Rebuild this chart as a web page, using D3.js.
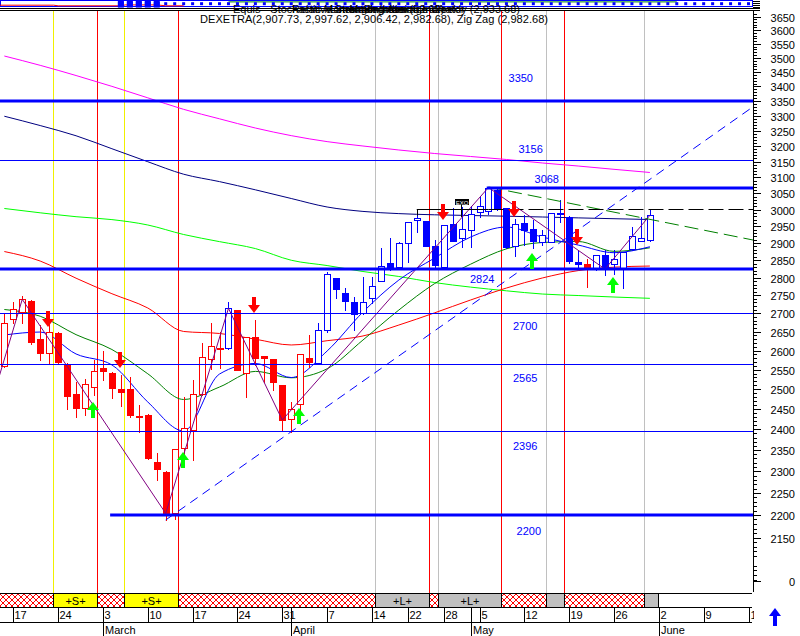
<!DOCTYPE html>
<html><head><meta charset="utf-8">
<script src="https://cdn.jsdelivr.net/npm/d3@7"></script>
<style>
html,body{margin:0;padding:0;background:#fff;}
svg{display:block;font-family:"Liberation Sans",Arial,sans-serif;}
</style></head><body>
<svg id="chart" width="800" height="636"></svg>
<script>
// ---------- DATA ----------
const dates = ["Feb14","Feb17","Feb18","Feb19","Feb20","Feb21","Feb24","Feb25","Feb26","Feb27","Feb28",
"Mar3","Mar4","Mar5","Mar6","Mar7","Mar10","Mar11","Mar12","Mar13","Mar14","Mar17","Mar18","Mar19","Mar20","Mar21",
"Mar24","Mar25","Mar26","Mar27","Mar28","Mar31","Apr1","Apr2","Apr3","Apr4","Apr7","Apr8","Apr9","Apr10","Apr11",
"Apr14","Apr15","Apr16","Apr17","Apr22","Apr23","Apr24","Apr25","Apr28","Apr29","Apr30","May2","May5","May6","May7",
"May8","May9","May12","May13","May14","May15","May16","May19","May20","May21","May22","May23","May26","May27","May28","May29","May30"];
const opens = [2559.5,2683.7,2704.5,2734.1,2629.8,2592.7,2647.4,2563.9,2487.7,2451.9,2506.2,
2553.5,2542.1,2499.6,2501.1,2432.7,2435.2,2321.7,2298.2,2203.7,2354.1,2398.4,2487.0,2577.0,2607.5,2605.9,
2709.2,2540.5,2636.8,2585.6,2577.7,2510.5,2424.5,2462.6,2581.1,2566.5,2654.7,2799.5,2755.5,2730.6,2700.2,
2741.6,2790.2,2840.8,2830.9,2899.1,2968.5,2966.4,2891.2,2830.9,2956.5,2913.8,2938.5,2992.0,2994.8,3060.4,
3004.0,2891.2,2960.3,2940.6,2903.8,2903.8,2986.7,2978.6,2845.4,2838.8,2824.3,2864.9,2838.0,2824.3,2882.4,2906.7,2907.73];
const highs = [2701.0,2732.2,2748.9,2736.0,2668.2,2670.1,2650.0,2566.0,2519.0,2525.1,2575.1,
2598.8,2545.0,2536.2,2531.9,2460.1,2437.0,2343.8,2300.0,2352.0,2480.9,2523.3,2619.0,2674.5,2650.1,2732.2,
2710.0,2637.0,2681.8,2586.0,2578.0,2511.0,2468.3,2591.0,2641.3,2673.0,2816.7,2800.0,2769.5,2746.1,2800.6,
2802.4,2884.3,2913.8,2902.0,2964.0,3000.9,2967.0,2908.8,2954.0,3003.9,3006.9,3010.9,3039.7,3069.5,3069.8,
3005.0,2970.6,2983.7,2968.5,2938.5,2990.0,3029.4,2980.0,2879.4,2852.3,2866.0,2879.4,2879.4,2875.0,2948.4,2978.6,2997.62];
const lows = [2557.0,2672.9,2674.5,2616.4,2575.1,2566.5,2568.0,2449.4,2431.0,2435.2,2485.2,
2523.3,2476.9,2457.6,2431.0,2394.3,2328.0,2279.6,2188.9,2192.0,2338.2,2326.4,2485.0,2551.0,2553.5,2604.0,
2548.0,2480.9,2562.1,2519.0,2497.8,2398.4,2394.3,2440.1,2556.0,2565.0,2650.0,2741.6,2709.2,2654.7,2699.0,
2727.8,2789.0,2822.0,2823.5,2845.4,2933.4,2890.0,2830.9,2830.0,2905.0,2889.2,2887.4,2978.6,2986.7,2998.8,
2886.0,2862.0,2894.1,2884.5,2894.1,2902.0,2963.4,2840.8,2828.1,2774.1,2823.0,2807.3,2811.0,2769.5,2879.4,2905.0,2906.42];
const closes = [2672.9,2711.1,2738.8,2623.4,2592.7,2648.5,2570.7,2482.7,2451.9,2512.3,2546.5,
2547.3,2502.1,2493.5,2435.2,2431.0,2330.4,2305.9,2203.7,2351.7,2402.5,2487.0,2583.7,2612.8,2604.0,2713.9,
2549.1,2636.8,2579.5,2581.1,2519.0,2422.8,2449.3,2590.8,2570.7,2654.7,2810.2,2768.4,2735.0,2698.4,2732.2,
2776.1,2832.9,2823.5,2900.8,2963.4,2973.6,2891.2,2835.8,2953.5,2906.7,2940.6,2985.8,3010.9,3068.2,3004.0,
2887.4,2955.6,2938.5,2906.7,2923.7,2988.8,2990.6,2848.3,2837.9,2829.3,2864.9,2824.3,2852.0,2874.5,2920.7,2913.8,2982.68];
const redRanges = [[0,24],[26,34],[65,65]];

const dateTickIdx = [1,6,11,16,21,26,31,36,41,45,49,53,58,63,68,73,78,83];
const dateTickLabels = ["17","24","3","10","17","24","31","7","14","22","28","5","12","19","26","2","9","16"];
const monthIdx = [11,32,52,73];
const monthLabels = ["March","April","May","June"];

const yTickValues = d3.range(2150, 3651, 50);
const yMinorValues = d3.range(2060, 3670, 10).filter(v => v % 50 !== 0);
const yExtraTickValue = 2057, yExtraTickLabel = "0";

const maIdx = d3.range(0, 73, 4);
const maMagenta = [3506.6,3473.6,3437.8,3400.2,3360.8,3321.7,3289.9,3259.3,3234.2,3214.6,3200.3,3187.4,3176.0,3166.4,3156.8,3145.6,3135.9,3125.4,3115.4];
const maNavy    = [3298.6,3267.5,3233.8,3191.5,3149.6,3109.9,3086.6,3061.0,3034.1,3008.1,2994.6,2987.9,2984.3,2982.2,2980.1,2977.7,2975.0,2972.5,2970.1];
const maLime    = [3003.5,2990.4,2978.6,2969.8,2953.6,2925.2,2904.1,2883.7,2849.7,2834.4,2817.3,2803.1,2785.7,2773.0,2762.6,2753.6,2749.4,2745.2,2741.6];
const maRed     = [2875.0,2847.4,2798.2,2754.4,2714.8,2650.8,2645.4,2630.1,2614.7,2626.1,2638.7,2668.2,2701.5,2736.9,2770.4,2798.8,2819.9,2829.7,2833.0];
const maGreen   = [2710.6,2692.2,2642.3,2602.7,2539.3,2473.9,2505.4,2545.5,2529.0,2552.2,2627.9,2709.2,2783.1,2838.2,2882.9,2901.5,2904.5,2875.6,2885.9];
const maBlue    = [2641.3,2649.3,2590.9,2562.2,2467.6,2396.1,2538.7,2566.1,2529.7,2598.7,2703.7,2793.0,2856.2,2917.6,2947.5,2917.6,2894.1,2871.6,2889.1];

const zigzagIdx = [-2,2,18,25,31,54,67,72];
const zigzagVal = [2425,2738.8,2203.7,2713.9,2422.8,3068.2,2824.3,2982.68];

const levels      = [3350,3156,3068,2824,2700,2565,2396,2200];
const levelThick  = [true,false,true,true,false,false,false,true];
const levelStart  = [-1,-1,53.8,-1,-1,-1,-1,11.8];
const levelLabelIdx = [57.6,58.7,60.5,53.3,58.1,58.1,58.1,58.5];
const levelLabelVal = [3415,3177.7,3083.8,2783.2,2654.7,2518.1,2350.1,2155.8];

const zoneStart = [-1,5.5,10.5,13.5,19.5,41.5,47.5,48.5,55.5,60.5,62.5,71.5];
const zoneEnd   = [5.5,10.5,13.5,19.5,41.5,47.5,48.5,55.5,60.5,62.5,71.5,73];
const zoneType  = ["x","S","x","S","x","L","x","L","x","L","x","L"];

const downArrowIdx = [5,13,28,49,57,64];
const downArrowVal = [2662.9,2554.2,2701.0,2968.5,2978.6,2894.1];
const upArrowIdx = [10,20,33,59,68];
const upArrowVal = [2467.6,2345.4,2452.6,2870.8,2801.6];

const trendUpIdx = [18,32], trendUpVal = [2188.9,2394.3];
const trendDownIdx = [54,62], trendDownVal = [3069.8,3025.3];
const flatLineIdx = 46, flatSolidEndIdx = 54, flatLineVal = 3000.9;
const exoIdx = 51, exoVal = 3023;

// top mini indicator strip (0..100)
const stripRedIdx = [-1,5.5,6,13,13.5,17,18,20];
const stripRedVal = [30,30,20,20,35,35,20,20];
const stripDenseIdx = [13,14,15,16,17];
const stripSquareIdx = d3.range(18,84);
const stripGreenIdx = [25,75];
const stripGreenVal = [85,85];

// ---------- CHART ----------
const svg = d3.select("#chart");
const plotRight = 753, plotTop = 11, plotBottom = 593;
const x = d3.scaleLinear().domain([0,83]).range([4.33,748.5]);
const y = d3.scaleLog().domain([2200,3350]).range([515,101]);
const iEnd = x.invert(plotRight);

const defs = svg.append("defs");
defs.append("clipPath").attr("id","plotClip").append("rect")
  .attr("x",0).attr("y",plotTop).attr("width",plotRight).attr("height",plotBottom-plotTop);
defs.append("clipPath").attr("id","axisClip").append("rect")
  .attr("x",0).attr("y",0).attr("width",754).attr("height",636);
const pat = defs.append("pattern").attr("id","hatch").attr("patternUnits","userSpaceOnUse")
  .attr("width",6).attr("height",6);
pat.append("rect").attr("width",6).attr("height",6).attr("fill","#fff");
pat.append("path").attr("d","M0,0L6,6M6,0L0,6").attr("stroke","#f00").attr("stroke-width",1);

svg.append("rect").attr("width",800).attr("height",636).attr("fill","#fff");

const plot = svg.append("g").attr("clip-path","url(#plotClip)");

// zone vertical lines
const zoneColor = {S:"#f0f000", x:"#ff0000", L:"#c0c0c0"};
zoneStart.forEach((s,k) => {
  if (k === 0) return;
  const xx = Math.round(x(s)) - 0.5;
  plot.append("line").attr("x1",xx).attr("x2",xx).attr("y1",plotTop).attr("y2",plotBottom)
    .attr("stroke",zoneColor[zoneType[k]]).attr("stroke-width",1);
});

// moving averages
const maLine = d3.line().x(d => x(d[0])).y(d => y(d[1])).curve(d3.curveMonotoneX);
[[maMagenta,"#ff00ff"],[maNavy,"#000080"],[maLime,"#00ff00"],[maRed,"#ff0000"],[maGreen,"#008000"],[maBlue,"#0000ff"]]
  .forEach(([vals,col]) => {
    plot.append("path").datum(maIdx.map((i,k)=>[i,vals[k]]))
      .attr("d",maLine).attr("fill","none").attr("stroke",col).attr("stroke-width",1);
  });

// candles
const isRed = i => redRanges.some(r => i >= r[0] && i <= r[1]);
const cg = plot.append("g");
dates.forEach((d,i) => {
  const col = isRed(i) ? "#ff0000" : "#0000ff";
  const cx = Math.round(x(i));
  const o = opens[i], c = closes[i];
  cg.append("line").attr("x1",cx+0.5).attr("x2",cx+0.5)
    .attr("y1",Math.round(y(highs[i]))).attr("y2",Math.round(y(lows[i]))+1)
    .attr("stroke",col).attr("stroke-width",1);
  const top = Math.round(y(Math.max(o,c))), bot = Math.round(y(Math.min(o,c)));
  cg.append("rect").attr("x",cx-3+0.5).attr("y",top+0.5).attr("width",6).attr("height",Math.max(1,bot-top))
    .attr("fill", c >= o ? "#ffffff" : col).attr("stroke",col).attr("stroke-width",1);
});

// zigzag
plot.append("path").datum(zigzagIdx.map((i,k)=>[i,zigzagVal[k]]))
  .attr("d",d3.line().x(d=>x(d[0])).y(d=>y(d[1])))
  .attr("fill","none").attr("stroke","#800080").attr("stroke-width",1);

// trend lines (straight in log space)
function logLine(i0,v0,i1,v1,iFrom,iTo){
  const k = (Math.log(v1)-Math.log(v0))/(i1-i0);
  return [[iFrom, v0*Math.exp((iFrom-i0)*k)],[iTo, v0*Math.exp((iTo-i0)*k)]];
}
const straight = d3.line().x(d=>x(d[0])).y(d=>y(d[1]));
plot.append("path").datum(logLine(trendUpIdx[0],trendUpVal[0],trendUpIdx[1],trendUpVal[1],trendUpIdx[0],iEnd))
  .attr("d",straight).attr("fill","none").attr("stroke","#0000ff").attr("stroke-dasharray","9,6");
plot.append("path").datum(logLine(trendDownIdx[0],trendDownVal[0],trendDownIdx[1],trendDownVal[1],trendDownIdx[0],iEnd))
  .attr("d",straight).attr("fill","none").attr("stroke","#008000").attr("stroke-dasharray","14,6");
const fy = Math.round(y(flatLineVal)) + 0.5;
plot.append("line").attr("x1",Math.round(x(flatLineIdx))+0.5).attr("x2",Math.round(x(flatLineIdx))+0.5)
  .attr("y1",fy).attr("y2",fy+6).attr("stroke","#000");
plot.append("line").attr("x1",x(flatLineIdx)).attr("x2",x(flatSolidEndIdx))
  .attr("y1",fy).attr("y2",fy).attr("stroke","#000");
plot.append("line").attr("x1",x(flatSolidEndIdx)).attr("x2",plotRight)
  .attr("y1",fy).attr("y2",fy).attr("stroke","#000").attr("stroke-dasharray","15,5");
// EXO marker
const ex = Math.round(x(exoIdx)), ey = Math.round(y(exoVal));
plot.append("line").attr("x1",ex-0.5).attr("x2",ex-0.5).attr("y1",ey+3).attr("y2",ey+15).attr("stroke","#000");
plot.append("rect").attr("x",ex-7).attr("y",ey-3).attr("width",14).attr("height",6).attr("fill","#000");
plot.append("text").attr("x",ex).attr("y",ey+2.5).attr("text-anchor","middle").attr("font-size",6)
  .attr("fill","#fff").text("EXO");

// horizontal levels
levels.forEach((v,k) => {
  const yy = Math.round(y(v)) + (levelThick[k] ? 0 : 0.5);
  plot.append("line").attr("x1", levelStart[k] < 0 ? 0 : x(levelStart[k])).attr("x2",plotRight)
    .attr("y1",yy).attr("y2",yy).attr("stroke","#0000ff").attr("stroke-width", levelThick[k] ? 3 : 1);
  plot.append("text").attr("x",x(levelLabelIdx[k])).attr("y",y(levelLabelVal[k]))
    .attr("text-anchor","middle").attr("font-size",11).attr("fill","#0000ff").text(String(v));
});

// signal arrows
downArrowIdx.forEach((i,k) => {
  const tx = Math.round(x(i)) - 1, ty = Math.round(y(downArrowVal[k]));
  plot.append("path").attr("d",`M${tx-2},${ty-16}H${tx+2}V${ty-8}H${tx+6}L${tx},${ty}L${tx-6},${ty-8}H${tx-2}Z`)
    .attr("fill","#ff0000");
});
upArrowIdx.forEach((i,k) => {
  const tx = Math.round(x(i)) - 1, ty = Math.round(y(upArrowVal[k]));
  plot.append("path").attr("d",`M${tx-2},${ty+16}H${tx+2}V${ty+8}H${tx+6}L${tx},${ty}L${tx-6},${ty+8}H${tx-2}Z`)
    .attr("fill","#00ff00");
});

// ---------- BOTTOM BAND ----------
const band = svg.append("g").attr("clip-path","url(#axisClip)");
const bandFill = {x:"url(#hatch)", S:"#ffff00", L:"#c0c0c0"};
zoneStart.forEach((s,k) => {
  const x0 = Math.max(0, Math.round(x(s))) - 0.5, x1 = Math.round(x(zoneEnd[k])) - 0.5;
  band.append("rect").attr("x",x0).attr("y",593.5).attr("width",x1-x0).attr("height",14)
    .attr("fill",bandFill[zoneType[k]]).attr("stroke","#000").attr("stroke-width",1);
  if (zoneType[k] !== "x" && x1 - x0 > 30) band.append("text").attr("x",(x0+x1)/2).attr("y",604.5)
    .attr("text-anchor","middle").attr("font-size",11).attr("fill","#000").text("+" + zoneType[k] + "+");
});
[593.5,607.5,622.5].forEach(yy => band.append("line").attr("x1",0).attr("x2",752).attr("y1",yy).attr("y2",yy)
  .attr("stroke","#000"));
dateTickIdx.forEach((i,k) => {
  const xx = Math.round(x(i)) + 0.5;
  band.append("line").attr("x1",xx).attr("x2",xx).attr("y1",607).attr("y2",622).attr("stroke","#000");
  band.append("text").attr("x",xx+1).attr("y",619).attr("font-size",11).attr("fill","#000").text(dateTickLabels[k]);
});
monthIdx.forEach((i,k) => {
  const xx = Math.round(x(i)) + 0.5;
  band.append("line").attr("x1",xx).attr("x2",xx).attr("y1",607).attr("y2",636).attr("stroke","#000");
  band.append("text").attr("x",xx+1.5).attr("y",634).attr("font-size",11).attr("fill","#000").text(monthLabels[k]);
});

// ---------- Y AXIS ----------
const ax = svg.append("g");
ax.append("line").attr("x1",753.5).attr("x2",753.5).attr("y1",plotTop).attr("y2",592).attr("stroke","#000");
yMinorValues.forEach(v => {
  const yy = Math.round(y(v)) + 0.5;
  ax.append("line").attr("x1",753).attr("x2",757).attr("y1",yy).attr("y2",yy).attr("stroke","#000");
});
yTickValues.concat([yExtraTickValue]).forEach(v => {
  const yy = Math.round(y(v)) + 0.5;
  ax.append("line").attr("x1",753).attr("x2",761).attr("y1",yy).attr("y2",yy).attr("stroke","#000");
  ax.append("text").attr("x",795).attr("y",yy+4).attr("text-anchor","end").attr("font-size",11)
    .attr("fill","#000").text(v === yExtraTickValue ? yExtraTickLabel : String(v));
});
[1.5,3.5,5.5,7.5].forEach(yy => ax.append("line").attr("x1",753).attr("x2",760).attr("y1",yy).attr("y2",yy).attr("stroke","#000"));

// ---------- TOP STRIP & HEADER ----------
const ys = d3.scaleLinear().domain([0,100]).range([7,1]);
const strip = svg.append("g");
strip.append("rect").attr("x",0.5).attr("y",0.5).attr("width",752).attr("height",6).attr("fill","none").attr("stroke","#0000ff");
strip.append("path").datum(stripRedIdx.map((i,k)=>[i,stripRedVal[k]]))
  .attr("d",d3.line().x(d=>Math.max(0,x(d[0]))).y(d=>ys(d[1]))).attr("fill","none").attr("stroke","#ff0000");
strip.append("path").datum(stripGreenIdx.map((i,k)=>[i,stripGreenVal[k]]))
  .attr("d",d3.line().x(d=>x(d[0])).y(d=>ys(d[1]))).attr("fill","none").attr("stroke","#008000");
stripDenseIdx.forEach(i => [15,40,65,90].forEach(v =>
  strip.append("rect").attr("x",x(i)-3).attr("y",ys(v)-1.5).attr("width",6).attr("height",3).attr("fill","#0000ff")));
stripSquareIdx.forEach(i => strip.append("rect").attr("x",x(i)-1.5).attr("y",ys(55)-1.5)
  .attr("width",3).attr("height",3).attr("fill","#0000ff"));
[8.5,10.5].forEach(yy => svg.append("line").attr("x1",0).attr("x2",760).attr("y1",yy).attr("y2",yy).attr("stroke","#000"));

const hdr = svg.append("g").attr("font-size",11).attr("fill","#000");
hdr.append("text").attr("x",233).attr("y",13).text("Equis - Stochastic Momentum Index");
hdr.append("text").attr("x",292).attr("y",13).text("Relative Strength Index (52.62)");
hdr.append("text").attr("x",330).attr("y",13).text("Linear Regression Indicator");
hdr.append("text").attr("x",520).attr("y",13).attr("text-anchor","end").text("Moving Average Weekly (2,933.68)");
hdr.append("text").attr("x",200).attr("y",23).attr("textLength",348).attr("lengthAdjust","spacingAndGlyphs")
  .text("DEXETRA(2,907.73, 2,997.62, 2,906.42, 2,982.68), Zig Zag (2,982.68)");

// blue up arrow bottom right
svg.append("path").attr("d","M775,608L781,616H777V626H773V616H769Z").attr("fill","#0000ff");
</script>
</body></html>
